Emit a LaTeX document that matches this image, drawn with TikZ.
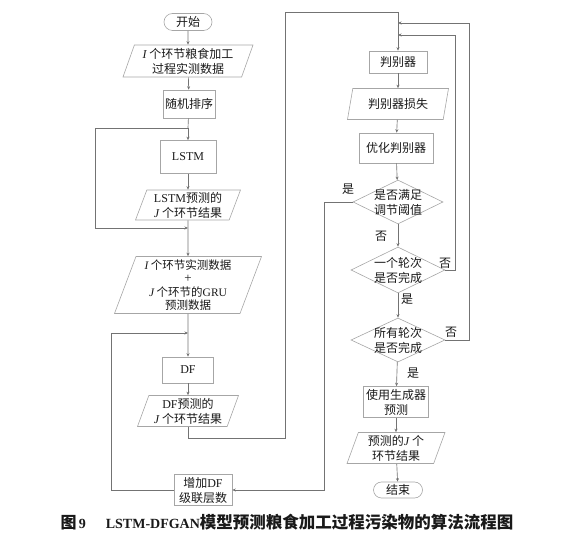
\documentclass[tikz,border=0pt]{standalone}
\usepackage{fontspec}
\setmainfont{Liberation Serif}
\newfontfamily\zh{Noto Sans CJK SC}
\usepackage{tikz}
\usetikzlibrary{shapes.geometric,shapes.misc,arrows.meta,positioning}
\newcommand\boxfont{\fontsize{12}{15}\selectfont\zh}
\newcommand\lat[1]{{\rmfamily #1}}
\newcommand\vi[1]{{\rmfamily\itshape #1}}

\begin{document}
\begin{tikzpicture}[x=1pt, y=-1pt,
  line/.style={draw=black!55, line width=0.65pt},
  arr/.style={line, -{Stealth[length=3.5pt,width=3pt]}},
  box/.style={rectangle, draw=black!35, line width=0.6pt, inner sep=1pt, align=center, font=\boxfont, text=black!90},
  term/.style={box, rounded rectangle},
  para/.style={box, trapezium, trapezium left angle=68, trapezium right angle=112, trapezium stretches body},
  decide/.style={box, diamond, aspect=2, inner sep=-7pt},
  lbl/.style={font=\boxfont, text=black!90, inner sep=0pt}]
\useasboundingbox (0,0) rectangle (568,534);

\node[term, minimum width=50, minimum height=17] (start) at (188,22) {开始};
\node[para, minimum width=130, minimum height=32] (in1) at (188,61) {\vi{I} 个环节粮食加工\\过程实测数据};
\node[box, minimum width=52, minimum height=28] (sort) at (189,104) {随机排序};
\node[box, minimum width=56, minimum height=33] (lstm) at (188,157) {\lat{LSTM}};
\node[para, minimum width=105, minimum height=30] (lout) at (188,205) {\lat{LSTM}预测的\\\vi{J} 个环节结果};
\node[para, minimum width=147, minimum height=57, font=\fontsize{11.5}{13.5}\selectfont\zh] (mix) at (188,285) {\vi{I} 个环节实测数据\\\lat{\fontsize{13}{13.5}\selectfont +}\\\vi{J} 个环节的\lat{GRU}\\预测数据};
\node[box, minimum width=51, minimum height=26] (df) at (188,370) {\lat{DF}};
\node[para, minimum width=101, minimum height=31] (dfout) at (188,411) {\lat{DF}预测的\\\vi{J} 个环节结果};
\node[box, minimum width=58, minimum height=31] (add) at (203,490) {增加\lat{DF}\\级联层数};

\node[box, minimum width=58, minimum height=22] (dis) at (398,62) {判别器};
\node[para, minimum width=101, minimum height=31] (loss) at (398,104) {判别器损失};
\node[box, minimum width=74, minimum height=30] (opt) at (396,148) {优化判别器};
\node[decide, minimum width=90, minimum height=44] (d1) at (398,202) {是否满足\\调节阈值};
\node[decide, minimum width=94, minimum height=46] (d2) at (398,270) {一个轮次\\是否完成};
\node[decide, minimum width=94, minimum height=44] (d3) at (398,340) {所有轮次\\是否完成};
\node[box, minimum width=65, minimum height=31] (gen) at (396,402) {使用生成器\\预测};
\node[para, minimum width=98, minimum height=31] (res) at (396,448) {预测的\vi{J} 个\\环节结果};
\node[term, minimum width=51, minimum height=16] (stop) at (398,490) {结束};

\node[lbl] (yes1) at (348,189) {是};
\node[lbl] (no1) at (381,236) {否};
\node[lbl] (no2) at (445,263) {否};
\node[lbl] (yes2) at (407,299) {是};
\node[lbl] (no3) at (451,332) {否};
\node[lbl] (yes3) at (413,373) {是};

\coordinate (j1) at (188,128);
\coordinate (j2) at (188,228);
\coordinate (j3) at (188,333);
\coordinate (f1) at (398,35);
\coordinate (f2) at (398,23);

\draw[arr] (start) -- (in1);
\draw[arr] (in1) -- (sort);
\draw[line] (sort) -- (j1);
\draw[arr] (j1) -- (lstm);
\draw[arr] (j1) -- ++(-93,0) |- (j2);
\draw[arr] (lstm) -- (lout);
\draw[arr] (lout) -- (mix);
\draw[arr] (mix) -- (df);
\draw[arr] (add.west) -- ++(-62,0) |- (j3);
\draw[arr] (df) -- (dfout);
\draw[arr] (dfout.south) -- ++(0,12) -- ++(97,0) -- ++(0,-426) -| (dis.north);
\draw[arr] (dis) -- (loss);
\draw[arr] (loss) -- (opt);
\draw[arr] (opt) -- (d1);
\draw[arr] (d1.west) -- ++(-28,0) |- (add.east);
\draw[arr] (d1) -- (d2);
\draw[arr] (d2.east) -- ++(10,0) |- (f1);
\draw[arr] (d2) -- (d3);
\draw[arr] (d3.east) -- ++(24,0) |- (f2);
\draw[arr] (d3) -- (gen);
\draw[arr] (gen) -- (res);
\draw[arr] (res) -- (stop);

\node[font=\fontsize{14}{16}\selectfont\bfseries, text=black!90] (cap) at (287,522) {{\zh\fontsize{16}{16}\selectfont\bfseries 图}\,9\hspace{20pt}LSTM-DFGAN{\zh\fontsize{16.5}{16}\selectfont\bfseries 模型预测粮食加工过程污染物的算法流程图}};
\end{tikzpicture}
\end{document}
